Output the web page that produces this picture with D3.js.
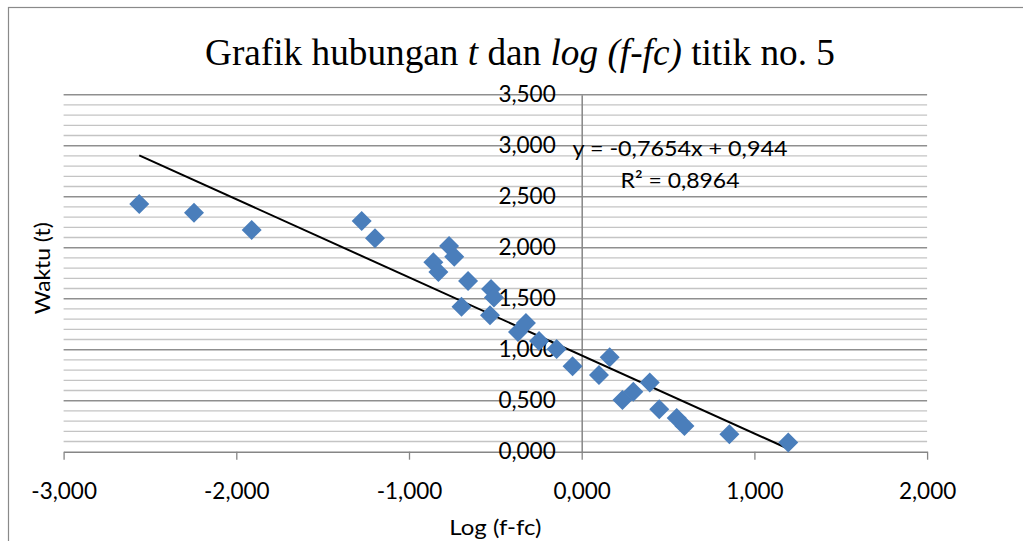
<!DOCTYPE html>
<html>
<head>
<meta charset="utf-8">
<script src="https://cdn.jsdelivr.net/npm/d3@7/dist/d3.min.js"></script>
<style>
  html, body { margin: 0; padding: 0; background: #ffffff; }
  svg { display: block; }
</style>
</head>
<body>
<svg id="chart" width="1023" height="541"></svg>
<script>
// log (f-fc) values and the matching times t
const logF = [-2.562, -2.245, -1.911, -1.274, -1.197, -0.768, -0.738, -0.859, -0.830, -0.658,
              -0.525, -0.508, -0.696, -0.531, -0.323, -0.369, -0.247, -0.145, -0.053, 0.100,
              0.162, 0.236, 0.299, 0.394, 0.449, 0.550, 0.595, 0.855, 1.196];
const waktu = [2.428, 2.343, 2.174, 2.262, 2.092, 2.017, 1.912, 1.857, 1.762, 1.674,
               1.595, 1.512, 1.422, 1.337, 1.262, 1.174, 1.085, 1.007, 0.837, 0.752,
               0.925, 0.507, 0.588, 0.678, 0.417, 0.330, 0.252, 0.171, 0.090];

// linear trendline y = slope * x + intercept
const slope = -0.7654;
const intercept = 0.944;
const rSquared = 0.8964;

const xTicks = [-3, -2, -1, 0, 1, 2];
const yTicks = [0, 0.5, 1, 1.5, 2, 2.5, 3, 3.5];
const yMinor = d3.range(1, 35).map(i => i / 10).filter(v => Math.abs(v * 2 - Math.round(v * 2)) > 1e-6);

const fmt = v => v.toFixed(3).replace(".", ",");
const fmtShort = v => String(v).replace(".", ",");

const svg = d3.select("#chart");
const x = d3.scaleLinear().domain([-3, 2]).range([63.6, 927.1]);
const y = d3.scaleLinear().domain([0, 3.5]).range([451.7, 94.7]);

const sans = "Lato, 'Open Sans', sans-serif";

// fit a text element to a given width
function fit(sel, w) {
  const len = sel.node().getComputedTextLength();
  if (len > 0) sel.attr("textLength", w).attr("lengthAdjust", "spacingAndGlyphs");
  return sel;
}

// chart frame
svg.append("rect")
  .attr("x", 8.5).attr("y", 7.5).attr("width", 1030).attr("height", 560)
  .attr("fill", "#ffffff").attr("stroke", "#8a8a8a").attr("stroke-width", 1.2);

// minor gridlines
svg.append("g").selectAll("line").data(yMinor).join("line")
  .attr("x1", x(-3)).attr("x2", x(2))
  .attr("y1", d => y(d)).attr("y2", d => y(d))
  .attr("stroke", "#c4c4c4").attr("stroke-width", 1.3);

// major gridlines
svg.append("g").selectAll("line").data(yTicks.filter(v => v > 0)).join("line")
  .attr("x1", x(-3)).attr("x2", x(2))
  .attr("y1", d => y(d)).attr("y2", d => y(d))
  .attr("stroke", "#8f8f8f").attr("stroke-width", 1.4);

// horizontal axis along y = 0
const xAxis = svg.append("g")
  .attr("transform", `translate(0,${y(0)})`)
  .call(d3.axisBottom(x).tickValues(xTicks).tickSize(8).tickSizeOuter(0).tickPadding(23).tickFormat(fmt));
xAxis.select(".domain").attr("stroke", "#868686").attr("stroke-width", 1.5);
xAxis.selectAll(".tick line").attr("stroke", "#868686").attr("stroke-width", 1.3);
xAxis.selectAll(".tick text")
  .attr("font-family", sans).attr("font-size", 22.5).attr("fill", "#000");

// vertical axis through x = 0
const yAxis = svg.append("g")
  .attr("transform", `translate(${x(0)},0)`)
  .call(d3.axisLeft(y).tickValues(yTicks).tickSize(0).tickPadding(26).tickFormat(fmt));
yAxis.select(".domain").attr("stroke", "#868686").attr("stroke-width", 1.5);
yAxis.selectAll(".tick text")
  .attr("font-family", sans).attr("font-size", 22.5).attr("fill", "#000");

// trendline across the data range
const xr = d3.extent(logF);
svg.append("line")
  .attr("x1", x(xr[0])).attr("y1", y(slope * xr[0] + intercept))
  .attr("x2", x(xr[1])).attr("y2", y(slope * xr[1] + intercept))
  .attr("stroke", "#000").attr("stroke-width", 2);

// data markers
const pts = logF.map((v, i) => [v, waktu[i]]);
svg.append("g").selectAll("path").data(pts).join("path")
  .attr("d", d3.symbol(d3.symbolSquare, 200))
  .attr("transform", d => `translate(${x(d[0])},${y(d[1])}) rotate(45)`)
  .attr("fill", "#4a7ebb");

// trendline equation
const eq = svg.append("text")
  .attr("x", 680).attr("y", 156).attr("text-anchor", "middle")
  .attr("font-family", sans).attr("font-size", 22).attr("fill", "#000")
  .text(`y = ${fmtShort(slope)}x + ${fmtShort(intercept)}`);
fit(eq, 215);
const r2 = svg.append("text")
  .attr("x", 680).attr("y", 188).attr("text-anchor", "middle")
  .attr("font-family", sans).attr("font-size", 22).attr("fill", "#000")
  .text(`R² = ${fmtShort(rSquared)}`);
fit(r2, 119);

// title
const title = svg.append("text")
  .attr("x", 520).attr("y", 65).attr("text-anchor", "middle")
  .attr("font-family", "'Liberation Serif', 'Times New Roman', serif")
  .attr("font-size", 37).attr("fill", "#000");
title.append("tspan").text("Grafik hubungan ");
title.append("tspan").attr("font-style", "italic").text("t");
title.append("tspan").text(" dan ");
title.append("tspan").attr("font-style", "italic").text("log (f-fc)");
title.append("tspan").text(" titik no. 5");
fit(title, 630);

// axis titles
const xt = svg.append("text")
  .attr("x", x(-0.5)).attr("y", 535).attr("text-anchor", "middle")
  .attr("font-family", sans).attr("font-size", 22).attr("fill", "#000")
  .text("Log (f-fc)");
fit(xt, 92);
const yt = svg.append("text")
  .attr("transform", `translate(50,${(y(0) + y(3.5)) / 2 - 5}) rotate(-90)`)
  .attr("text-anchor", "middle")
  .attr("font-family", sans).attr("font-size", 22).attr("fill", "#000")
  .text("Waktu (t)");
fit(yt, 92);
</script>
</body>
</html>
